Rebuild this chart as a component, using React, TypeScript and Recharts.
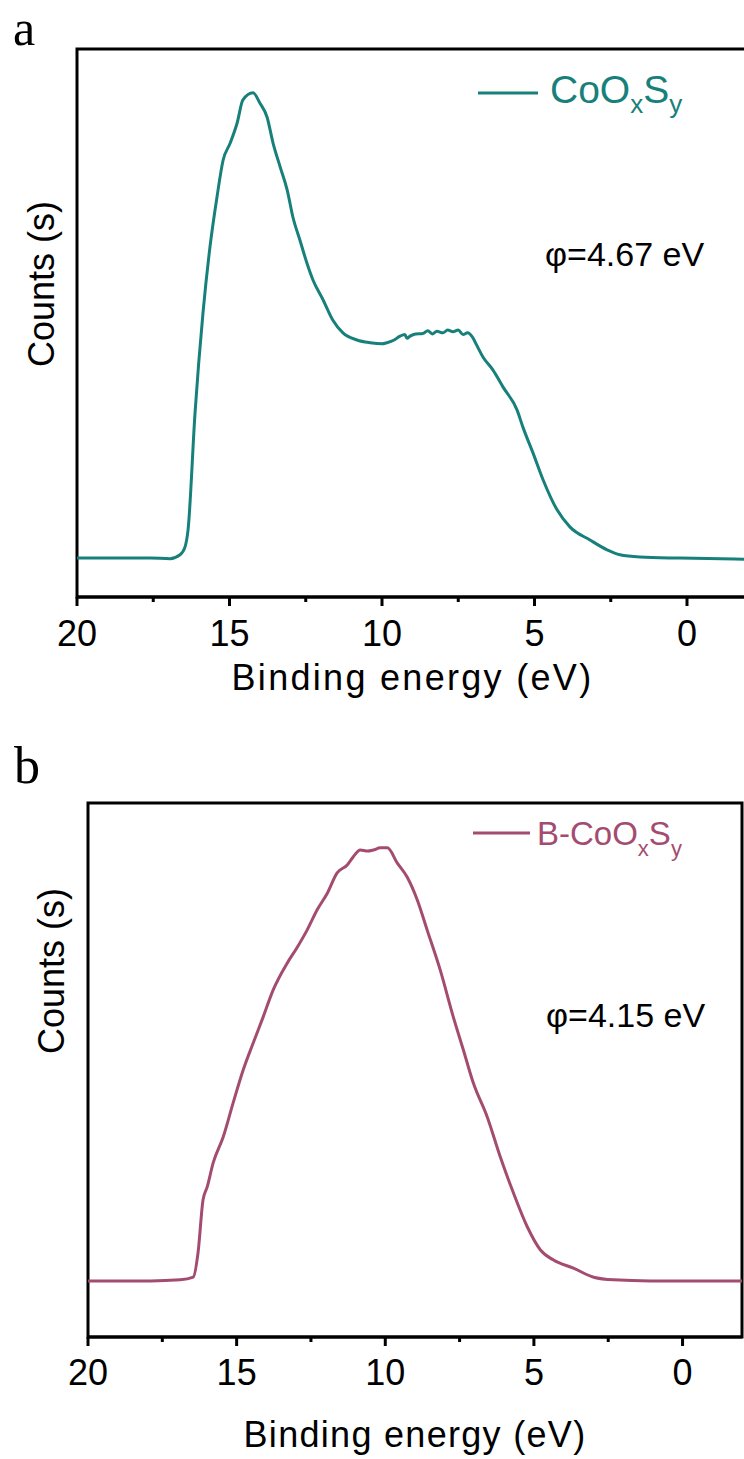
import React from 'react';
import { LineChart, Line, XAxis, YAxis, ReferenceArea, Legend } from 'recharts';

// ---------- data ----------
const energyA = [20, 17.6, 16.95, 16.62, 16.46, 16.36, 16.13, 15.87, 15.64, 15.41, 15.21, 14.98, 14.75, 14.56, 14.23, 14.0, 13.77, 13.57, 13.34, 13.11, 12.92, 12.69, 12.46, 12.26, 11.93, 11.61, 11.28, 10.82, 10.39, 10.0, 9.84, 9.6, 9.41, 9.25, 9.18, 9.08, 8.9, 8.66, 8.5, 8.35, 8.2, 8.0, 7.85, 7.67, 7.5, 7.34, 7.2, 7.02, 6.9, 6.69, 6.36, 6.03, 5.57, 5.38, 5.05, 4.72, 4.26, 3.84, 3.18, 2.62, 2.2, 1.54, 0.23, -2];
const countsA = [7.1, 7.1, 7.0, 7.7, 9.1, 12.2, 33.6, 51.8, 63.9, 73.0, 79.7, 82.8, 86.5, 90.7, 92.0, 90.1, 87.6, 82.8, 78.5, 74.3, 69.3, 65.1, 60.9, 57.8, 54.2, 50.5, 48.2, 46.9, 46.4, 46.2, 46.4, 46.9, 47.6, 47.9, 47.2, 47.6, 48.0, 48.1, 48.6, 48.0, 48.5, 48.2, 48.7, 48.4, 48.7, 47.9, 48.2, 47.3, 46.0, 43.8, 41.4, 38.3, 34.1, 31.0, 26.3, 21.4, 15.9, 12.8, 10.4, 8.6, 7.7, 7.3, 7.1, 6.9];

const energyB = [20, 17.9, 16.9, 16.46, 16.3, 16.13, 15.99, 15.79, 15.45, 15.12, 14.78, 14.44, 14.11, 13.77, 13.3, 12.96, 12.63, 12.29, 11.95, 11.62, 11.28, 11.08, 10.84, 10.6, 10.4, 10.17, 9.93, 9.6, 9.26, 8.92, 8.59, 8.15, 7.71, 7.37, 7.04, 6.57, 6.13, 5.69, 5.22, 4.78, 4.34, 3.67, 2.99, 2.32, 1.08, -2];
const countsB = [10.5, 10.5, 10.7, 11.2, 15.7, 25.7, 28.1, 32.6, 37.5, 43.8, 50.0, 55.1, 59.9, 65.0, 70.0, 73.0, 76.2, 80.0, 83.1, 86.9, 88.4, 89.9, 91.2, 91.0, 91.2, 91.6, 91.6, 88.8, 86.1, 81.8, 76.2, 68.7, 59.9, 53.7, 47.6, 41.2, 33.7, 27.0, 20.6, 16.3, 14.4, 12.9, 11.2, 10.7, 10.5, 10.5];

const xTicks = [20, 17.5, 15, 12.5, 10, 7.5, 5, 2.5, 0];
const xDomain = [-2, 20];
const yDomain = [0, 100];

const seriesA = 'CoOxSy';
const seriesB = 'B-CoOxSy';
const workFnA = 'φ=4.67 eV';
const workFnB = 'φ=4.15 eV';
const xTitle = 'Binding energy (eV)';
const yTitle = 'Counts (s)';
const panelA = 'a';
const panelB = 'b';

const TEAL = '#17807B';
const MAGENTA = '#A34C70';
const SANS = '"Liberation Sans", Arial, Helvetica, sans-serif';
const SERIF = '"Liberation Serif", "Times New Roman", serif';

const dataA = energyA.map((e, i) => ({ e, c: countsA[i] }));
const dataB = energyB.map((e, i) => ({ e, c: countsB[i] }));

const makeTick = (labelOffset: number) => (props: any) => {
  const { x, y, payload } = props;
  const v = payload.value;
  const major = Math.abs(v % 5) < 1e-6;
  const axisY = y - 9;
  return (
    <g>
      <line x1={x} x2={x} y1={axisY} y2={axisY + (major ? 9 : 5)} stroke="#000" strokeWidth={3} />
      {major && (
        <text x={x} y={axisY + labelOffset} textAnchor="middle" fontSize={36} fill="#000" fontFamily={SANS}>
          {v}
        </text>
      )}
    </g>
  );
};

const makeXLabel = (offset: number, spacing: number) => (props: any) => {
  const vb = props.viewBox || {};
  return (
    <text x={vb.x + vb.width / 2} y={vb.y + offset} textAnchor="middle" fontSize={36} fill="#000" fontFamily={SANS} letterSpacing={spacing}>
      {xTitle}
    </text>
  );
};

const YTitle = ({ bx, cy }: { bx: number; cy: number }) => (
  <text x={bx} y={cy} transform={`rotate(-90 ${bx} ${cy})`} textAnchor="middle" fontSize={36} fill="#000" fontFamily={SANS}>
    {yTitle}
  </text>
);

const Formula = ({ prefix, big, small, dy }: { prefix: string; big: number; small: number; dy: number }) => (
  <>
    <tspan fontSize={big}>{prefix}CoO</tspan>
    <tspan fontSize={small} dy={dy}>x</tspan>
    <tspan fontSize={big} dy={-dy}>S</tspan>
    <tspan fontSize={small} dy={dy}>y</tspan>
  </>
);

const legendA = () => (
  <svg width={760} height={707} style={{ position: 'absolute', left: 0, top: 0, overflow: 'visible', pointerEvents: 'none' }}>
    <text x={13} y={45} fontFamily={SERIF} fontSize={50} fill="#000">{panelA}</text>
    <YTitle bx={54} cy={284} />
    <line x1={478} x2={538} y1={93} y2={93} stroke={TEAL} strokeWidth={3} />
    <text x={550} y={103} fill={TEAL} fontFamily={SANS}>
      <Formula prefix="" big={39} small={26} dy={10} />
    </text>
    <text x={545} y={266} fill="#000" fontFamily={SANS} fontSize={34}>{workFnA}</text>
  </svg>
);

const legendB = () => (
  <svg width={744} height={719} style={{ position: 'absolute', left: 0, top: 0, overflow: 'visible', pointerEvents: 'none' }}>
    <text x={14} y={43} fontFamily={SERIF} fontSize={52} fill="#000">{panelB}</text>
    <YTitle bx={64} cy={231} />
    <line x1={473} x2={530} y1={93} y2={93} stroke={MAGENTA} strokeWidth={3} />
    <text x={537} y={105} fill={MAGENTA} fontFamily={SANS}>
      <Formula prefix="B-" big={33} small={22} dy={11} />
    </text>
    <text x={546} y={287} fill="#000" fontFamily={SANS} fontSize={34}>{workFnB}</text>
  </svg>
);

const legendWrap = { position: 'absolute' as const, left: 0, top: 0, width: 0, height: 0, margin: 0, padding: 0 };

export default function App() {
  return (
    <div style={{ position: 'absolute', left: 0, top: 0, width: 744, height: 1459, overflow: 'hidden', background: '#fff' }}>
      <div style={{ position: 'absolute', left: 0, top: 0 }}>
        <LineChart width={760} height={707} data={dataA} margin={{ top: 49, right: 12, bottom: 0, left: 77 }}>
          <XAxis
            dataKey="e"
            type="number"
            domain={xDomain}
            reversed
            allowDataOverflow
            ticks={xTicks}
            interval={0}
            height={110}
            tickSize={9}
            tickMargin={0}
            tickLine={false}
            axisLine={{ stroke: '#000', strokeWidth: 3 }}
            tick={makeTick(49)}
            label={{ content: makeXLabel(93, 2.3) }}
          />
          <YAxis
            type="number"
            domain={yDomain}
            width={0}
            tick={false}
            tickLine={false}
            axisLine={{ stroke: '#000', strokeWidth: 3 }}
          />
          <ReferenceArea x1={20} x2={-2} y1={0} y2={100} fill="none" stroke="#000" strokeWidth={3} />
          <Legend content={legendA} wrapperStyle={legendWrap} />
          <Line type="monotone" dataKey="c" name={seriesA} stroke={TEAL} strokeWidth={3} dot={false} isAnimationActive={false} />
        </LineChart>
      </div>

      <div style={{ position: 'absolute', left: 0, top: 740 }}>
        <LineChart width={744} height={719} data={dataB} margin={{ top: 63, right: 2, bottom: 0, left: 88 }}>
          <XAxis
            dataKey="e"
            type="number"
            domain={xDomain}
            reversed
            allowDataOverflow
            ticks={xTicks}
            interval={0}
            height={122}
            tickSize={9}
            tickMargin={0}
            tickLine={false}
            axisLine={{ stroke: '#000', strokeWidth: 3 }}
            tick={makeTick(48)}
            label={{ content: makeXLabel(110, 1.3) }}
          />
          <YAxis
            type="number"
            domain={yDomain}
            width={0}
            tick={false}
            tickLine={false}
            axisLine={{ stroke: '#000', strokeWidth: 3 }}
          />
          <ReferenceArea x1={20} x2={-2} y1={0} y2={100} fill="none" stroke="#000" strokeWidth={3} />
          <Legend content={legendB} wrapperStyle={legendWrap} />
          <Line type="monotone" dataKey="c" name={seriesB} stroke={MAGENTA} strokeWidth={3} dot={false} isAnimationActive={false} />
        </LineChart>
      </div>
    </div>
  );
}
